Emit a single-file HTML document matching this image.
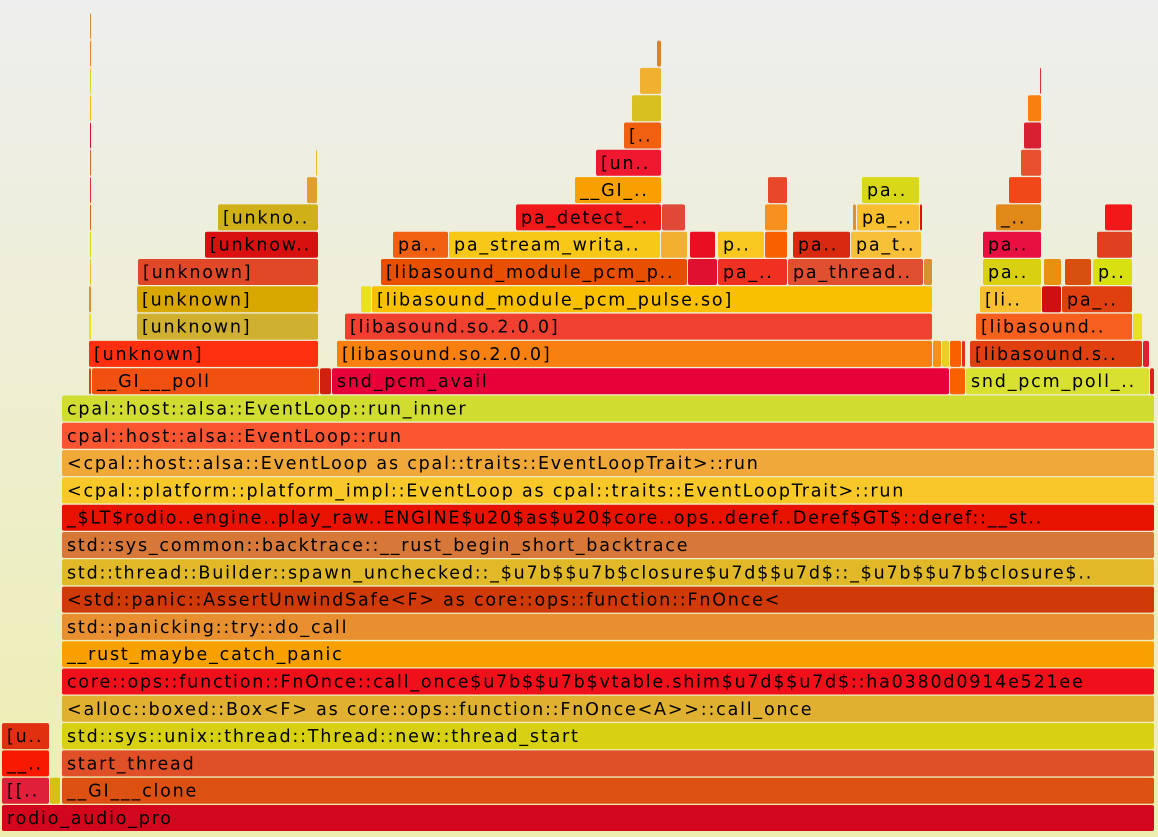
<!DOCTYPE html>
<html><head><meta charset="utf-8"><style>
html,body{margin:0;padding:0;width:1158px;height:837px;overflow:hidden}
svg{display:block}
text{font-family:"DejaVu Sans","Liberation Sans",sans-serif;font-size:17.5px;letter-spacing:1.8px;fill:#000}
</style></head><body>
<svg id="fg" width="1158" height="837" xmlns="http://www.w3.org/2000/svg">
<defs><linearGradient id="bg" x1="0" y1="0" x2="0" y2="1"><stop offset="0" stop-color="#eeeeee"/><stop offset="1" stop-color="#eeeeb0"/></linearGradient></defs>
<rect x="0" y="0" width="1158" height="837" fill="url(#bg)"/>
<g id="frames"></g>
</svg>
<script>
// frame data: start, end (sample units), depth, label, color
const starts=[2,2,50,62,2,62,2,62,62,62,62,62,62,62,62,62,62,62,62,62,
89,92,320,332,950,966,1150,
89,337,933,942,950,962,970,1143,
89,137,345,976,1133,
89,137,361,372,980,1042,1062,
90,138,381,688,718,788,924,983,1044,1065,1093,
90,205,393,449,661,690,718,765,793,851,983,1097,
90,218,516,662,765,853,857,920,996,1105,
90,307,575,768,862,1009,
90,316,596,1021,
90,624,1024,
90,632,1028,
90,640,1040,
90,657,
90];
const ends=[1155,50,61,1155,50,1155,50,1155,1155,1155,1155,1155,1155,1155,1155,1155,1155,1155,1155,1155,
92,320,332,950,966,1150,1155,
319,933,942,950,962,966,1143,1150,
92,319,933,1133,1143,
92,319,372,933,1042,1062,1133,
92,319,688,718,788,924,933,1042,1062,1092,1133,
92,319,449,661,688,716,765,788,851,922,1042,1133,
92,319,662,686,788,857,920,923,1042,1133,
92,318,662,788,920,1042,
92,318,662,1042,
92,662,1042,
92,662,1042,
92,662,1042,
92,662,
92];
const depths=[0,1,1,1,2,2,3,3,4,5,6,7,8,9,10,11,12,13,14,15,
16,16,16,16,16,16,16,
17,17,17,17,17,17,17,17,
18,18,18,18,18,
19,19,19,19,19,19,19,
20,20,20,20,20,20,20,20,20,20,20,
21,21,21,21,21,21,21,21,21,21,21,21,
22,22,22,22,22,22,22,22,22,22,
23,23,23,23,23,23,
24,24,24,24,
25,25,25,
26,26,26,
27,27,27,
28,28,
29];
const labels=["rodio_audio_pro","[[..","","__GI___clone","__..","start_thread","[u..","std::sys::unix::thread::Thread::new::thread_start",
"<alloc::boxed::Box<F> as core::ops::function::FnOnce<A>>::call_once",
"core::ops::function::FnOnce::call_once$u7b$$u7b$vtable.shim$u7d$$u7d$::ha0380d0914e521ee",
"__rust_maybe_catch_panic","std::panicking::try::do_call",
"<std::panic::AssertUnwindSafe<F> as core::ops::function::FnOnce<",
"std::thread::Builder::spawn_unchecked::_$u7b$$u7b$closure$u7d$$u7d$::_$u7b$$u7b$closure$..",
"std::sys_common::backtrace::__rust_begin_short_backtrace",
"_$LT$rodio..engine..play_raw..ENGINE$u20$as$u20$core..ops..deref..Deref$GT$::deref::__st..",
"<cpal::platform::platform_impl::EventLoop as cpal::traits::EventLoopTrait>::run",
"<cpal::host::alsa::EventLoop as cpal::traits::EventLoopTrait>::run",
"cpal::host::alsa::EventLoop::run","cpal::host::alsa::EventLoop::run_inner",
"","__GI___poll","","snd_pcm_avail","","snd_pcm_poll_..","",
"[unknown]","[libasound.so.2.0.0]","","","","","[libasound.s..","",
"","[unknown]","[libasound.so.2.0.0]","[libasound..","",
"","[unknown]","","[libasound_module_pcm_pulse.so]","[li..","","pa_..",
"","[unknown]","[libasound_module_pcm_p..","","pa_..","pa_thread..","","pa..","","","p..",
"","[unknow..","pa..","pa_stream_writa..","","","p..","","pa..","pa_t..","pa..","",
"","[unkno..","pa_detect_..","","","","pa_..","","_..","",
"","","__GI_..","","pa..","",
"","","[un..","",
"","[..","",
"","","",
"","","",
"","",
""];
const colors=["#d2061c","#e0203a","#d8c010","#dc5012","#f51a00","#e05028","#e03010","#d8d012",
"#e0b030","#f0101a","#f8a000","#e89030","#d03a08","#e0b828","#d87838","#e81200","#f8c828","#f0a838","#f85530","#d0dc30",
"#e04010","#f05010","#d02010","#e80038","#f86000","#d8e030","#e02020",
"#ff3010","#f88010","#f89010","#e8d020","#f86000","#e03020","#e04010","#e02030",
"#e8e020","#d0b030","#f04030","#f86020","#e8e020",
"#e09020","#d8a800","#e8e020","#f8c000","#f8c030","#d01010","#e04010",
"#e0c020","#e04828","#e85000","#e01030","#f03020","#e05030","#d89030","#d8d010","#e89010","#d85010","#d8e010",
"#e0d020","#d81010","#f06010","#f8c818","#f0b030","#e81020","#f8c820","#f86000","#d82810","#f8c038","#e81040","#e04020",
"#e06020","#d0b018","#f01818","#e04838","#f89020","#e09030","#f8c030","#e01010","#e08818","#f01818",
"#e03030","#e0a030","#f8a000","#e84828","#d8d818","#f04818",
"#e06040","#e0c030","#f01830","#e85030",
"#d01020","#f06010","#d82030",
"#e0c020","#d8c020","#f88010",
"#e0d030","#f0b030","#e03030",
"#f08020","#e08020",
"#d89030"];
const X_SCALE=1, ROW_H=27.3, BASE_Y=805, FH=26, LS=1.8;
function xPos(v){return v*X_SCALE;}
function yPos(d){return BASE_Y-d*ROW_H;}
const g=document.getElementById('frames');
const NS="http://www.w3.org/2000/svg";
const cv=document.createElement('canvas').getContext('2d');
cv.font='17.5px "DejaVu Sans"';
function tw(s){return cv.measureText(s).width+s.length*LS;}
for(let i=0;i<starts.length;i++){
  const x=xPos(starts[i]), w=xPos(ends[i])-x, y=yPos(depths[i]);
  const grp=document.createElementNS(NS,'g');
  
  
  const r=document.createElementNS(NS,'rect');
  r.setAttribute('x',x);r.setAttribute('y',y);
  r.setAttribute('width',Math.max(w-1,1));r.setAttribute('height',FH);
  r.setAttribute('fill',colors[i]);r.setAttribute('rx',2);
  
  
  grp.appendChild(r);
  if(labels[i]){
    let s=labels[i];
    while(s.length>2 && tw(s)>w-6) s=s.slice(0,-3)+'..';
    const t=document.createElementNS(NS,'text');
    t.setAttribute('x',x+5);t.setAttribute('y',y+19);
    
    
    t.textContent=s;
    grp.appendChild(t);
  }
  g.appendChild(grp);
}
</script>
</body></html>
